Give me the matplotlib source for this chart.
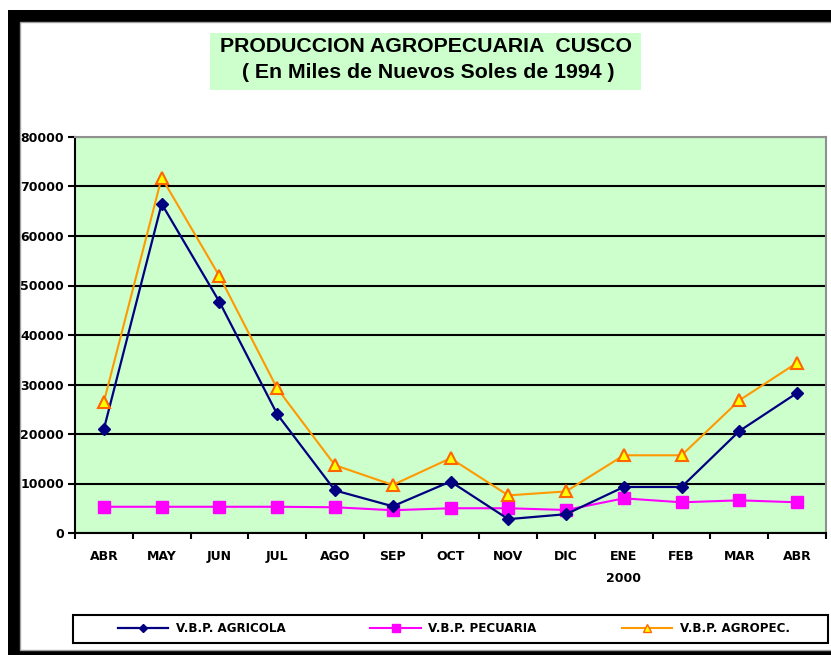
import matplotlib
matplotlib.use("Agg")
import matplotlib.pyplot as plt
from matplotlib.patches import Rectangle
from matplotlib.lines import Line2D

months = ["ABR", "MAY", "JUN", "JUL", "AGO", "SEP", "OCT", "NOV", "DIC", "ENE", "FEB", "MAR", "ABR"]
agricola = [21000, 66500, 46700, 24000, 8600, 5400, 10400, 2800, 3800, 9300, 9300, 20600, 28300]
pecuaria = [5300, 5300, 5300, 5300, 5200, 4600, 5000, 5000, 4650, 7000, 6200, 6600, 6200]
agropec = [26500, 71800, 51900, 29200, 13700, 9700, 15100, 7600, 8400, 15700, 15700, 26800, 34400]
yticks = [0, 10000, 20000, 30000, 40000, 50000, 60000, 70000, 80000]
series_names = ["V.B.P. AGRICOLA", "V.B.P. PECUARIA", "V.B.P. AGROPEC."]
title1 = "PRODUCCION AGROPECUARIA  CUSCO"
title2 = "( En Miles de Nuevos Soles de 1994 )"
year_label = "2000"

W, H = 831, 655
fig = plt.figure(figsize=(W / 100, H / 100), dpi=100)

def fx(px):
    return px / W

def fy(py):
    return 1 - py / H

# black window frame
fig.patches.append(Rectangle((fx(8), 0), 1, fy(10), transform=fig.transFigure,
                             facecolor="black", edgecolor="none", zorder=0))
fig.patches.append(Rectangle((fx(20), fy(650)), 1, fy(22) - fy(650), transform=fig.transFigure,
                             facecolor="white", edgecolor="#a0a0a0", linewidth=1, zorder=0.5))

# title box
fig.patches.append(Rectangle((fx(210), fy(90)), fx(641) - fx(210), fy(33) - fy(90),
                             transform=fig.transFigure, facecolor="#ccffcc", edgecolor="none", zorder=1))
tfont = dict(family="Liberation Sans", weight="bold", size=15.3, color="black", zorder=2)
fig.text(fx(426), fy(47), title1, ha="center", va="center", **tfont)
fig.text(fx(428), fy(73), title2, ha="center", va="center", **tfont)

ax = fig.add_axes([fx(75), fy(533), fx(826) - fx(75), fy(137) - fy(533)])
ax.set_zorder(2)
ax.set_facecolor("#ccffcc")
x = list(range(len(months)))

ax.plot(x, agricola, color="#000080", lw=1.6, marker="D", markersize=6.5,
        markerfacecolor="#000080", markeredgecolor="#000080", zorder=4)
ax.plot(x, pecuaria, color="#ff00ff", lw=1.5, marker="s", markersize=8.5,
        markerfacecolor="#ff00ff", markeredgecolor="#ff00ff", zorder=3)
ax.plot(x, agropec, color="#ff9900", lw=1.5, marker="^", markersize=9,
        markerfacecolor="#ffff00", markeredgecolor="#ff6600", markeredgewidth=1.5, zorder=5)

ax.set_xlim(-0.5, len(months) - 0.5)
ax.set_ylim(0, 80000)
ax.set_yticks(yticks)
ax.set_yticklabels([str(v) for v in yticks])
ax.yaxis.grid(True, color="black", lw=1.5, zorder=1)
ax.set_axisbelow(True)

ax.set_xticks(x)
ax.set_xticklabels(months)
ax.set_xticks([i - 0.5 for i in range(len(months) + 1)], minor=True)
ax.tick_params(axis="x", which="major", length=0, pad=12)
ax.tick_params(axis="x", which="minor", length=4, width=1.5, color="black")
ax.tick_params(axis="y", length=5, width=1.5, color="black", pad=3)

fs = 9
lab_font = dict(family="DejaVu Sans", weight="bold", size=fs)
for lab in ax.get_xticklabels() + ax.get_yticklabels():
    lab.set_fontfamily("DejaVu Sans")
    lab.set_fontweight("bold")
    lab.set_fontsize(fs)

ax.annotate(year_label, xy=(9, 0), xycoords=("data", "axes fraction"),
            xytext=(0, -45), textcoords="offset pixels", ha="center", va="center",
            annotation_clip=False, **lab_font)

for s in ["left", "bottom"]:
    ax.spines[s].set_color("black")
    ax.spines[s].set_linewidth(1.5)
for s in ["top", "right"]:
    ax.spines[s].set_color("#909090")
    ax.spines[s].set_linewidth(1.5)

# legend
fig.patches.append(Rectangle((fx(73), fy(643)), fx(828) - fx(73), fy(615) - fy(643),
                             transform=fig.transFigure, facecolor="white", edgecolor="black",
                             linewidth=1.5, zorder=1))
handles = [
    Line2D([], [], color="#000080", lw=1.6, marker="D", markersize=4, markerfacecolor="#000080"),
    Line2D([], [], color="#ff00ff", lw=1.5, marker="s", markersize=5.5, markerfacecolor="#ff00ff"),
    Line2D([], [], color="#ff9900", lw=1.5, marker="^", markersize=6, markerfacecolor="#ffff00",
           markeredgecolor="#ff6600"),
]
leg = fig.legend(handles, series_names, loc="center left", bbox_to_anchor=(fx(118), fy(629)),
                 ncol=3, frameon=False, borderaxespad=0, borderpad=0,
                 prop=dict(family="DejaVu Sans", weight="bold", size=8.6),
                 handlelength=4.2, handletextpad=0.65, columnspacing=7.1)
leg.set_zorder(3)

fig.savefig("out.png", dpi=100)
